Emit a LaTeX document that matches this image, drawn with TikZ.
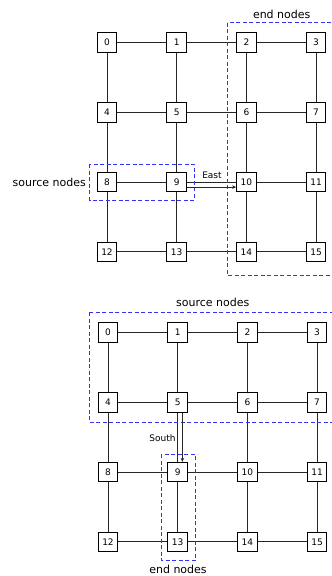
\documentclass[tikz,border=0pt]{standalone}
\usepackage{fontspec}
\setmainfont{DejaVu Sans}
\usetikzlibrary{arrows.meta}
\definecolor{groupblue}{rgb}{0.2,0.2,0.95}
\tikzset{
  router/.style={draw=black, line width=1pt, fill=white, minimum size=19.5pt,
    inner sep=0pt, font=\fontsize{9}{10}\selectfont},
  link/.style={draw=black!85, line width=0.9pt},
  group/.style={draw=groupblue, line width=1pt, dash pattern=on 4pt off 2.5pt},
  grouplabel/.style={font=\fontsize{11}{13}\selectfont, inner sep=0pt},
  dirlabel/.style={font=\fontsize{9}{10}\selectfont, inner sep=0pt},
  route/.style={draw=black!85, line width=0.9pt, -{Stealth[length=4pt,width=3.5pt]}}
}
\begin{document}
\begin{tikzpicture}[x=1pt, y=-1pt]
  \clip (0,0) rectangle (332,576);
  \fill[white] (0,0) rectangle (332,576);

  % ---- upper mesh: eastward routing ----
  \foreach \r in {0,...,3} {
    \foreach \c in {0,...,3} {
      \pgfmathtruncatemacro{\id}{4*\r+\c}
      \node[router] (t\id) at ({107+69.7*\c}, {42.5+69.8*\r}) {\id};
    }
  }
  % ---- lower mesh: southward routing ----
  \foreach \r in {0,...,3} {
    \foreach \c in {0,...,3} {
      \pgfmathtruncatemacro{\id}{4*\r+\c}
      \node[router] (b\id) at ({108+69.7*\c}, {332.5+69.8*\r}) {\id};
    }
  }

  % mesh links (horizontal, then vertical)
  \foreach \p in {t,b} {
    \foreach \r in {0,...,3} {
      \foreach \c in {0,1,2} {
        \pgfmathtruncatemacro{\a}{4*\r+\c}
        \pgfmathtruncatemacro{\b}{4*\r+\c+1}
        \draw[link] (\p\a) -- (\p\b);
      }
    }
    \foreach \r in {0,1,2} {
      \foreach \c in {0,...,3} {
        \pgfmathtruncatemacro{\a}{4*\r+\c}
        \pgfmathtruncatemacro{\b}{4*\r+\c+4}
        \draw[link] (\p\a) -- (\p\b);
      }
    }
  }

  % upper groups
  \draw[group] (227.3,22.7) rectangle (345,275.5);
  \node[grouplabel] (tend) at (281.7,14) {end nodes};
  \draw[group] (89.7,164.3) rectangle (194.3,200.3);
  \node[grouplabel, anchor=east] (tsrc) at (86,182.5) {source nodes};
  \draw[route] ([yshift=-5pt]t9.east) -- ([yshift=-5pt]t10.west);
  \node[dirlabel] (east) at (212,175) {East};

  % lower groups
  \draw[group] (89.7,312.3) rectangle (345,422.7);
  \node[grouplabel] (bsrc) at (212.7,302.7) {source nodes};
  \draw[group] (161,454.3) rectangle (195.3,560.3);
  \node[grouplabel] (bend) at (178,569.3) {end nodes};
  \draw[route] ([xshift=4.7pt]b5.south) -- ([xshift=4.7pt]b9.north);
  \node[dirlabel, anchor=east] (south) at (175.7,437.7) {South};
\end{tikzpicture}
\end{document}
